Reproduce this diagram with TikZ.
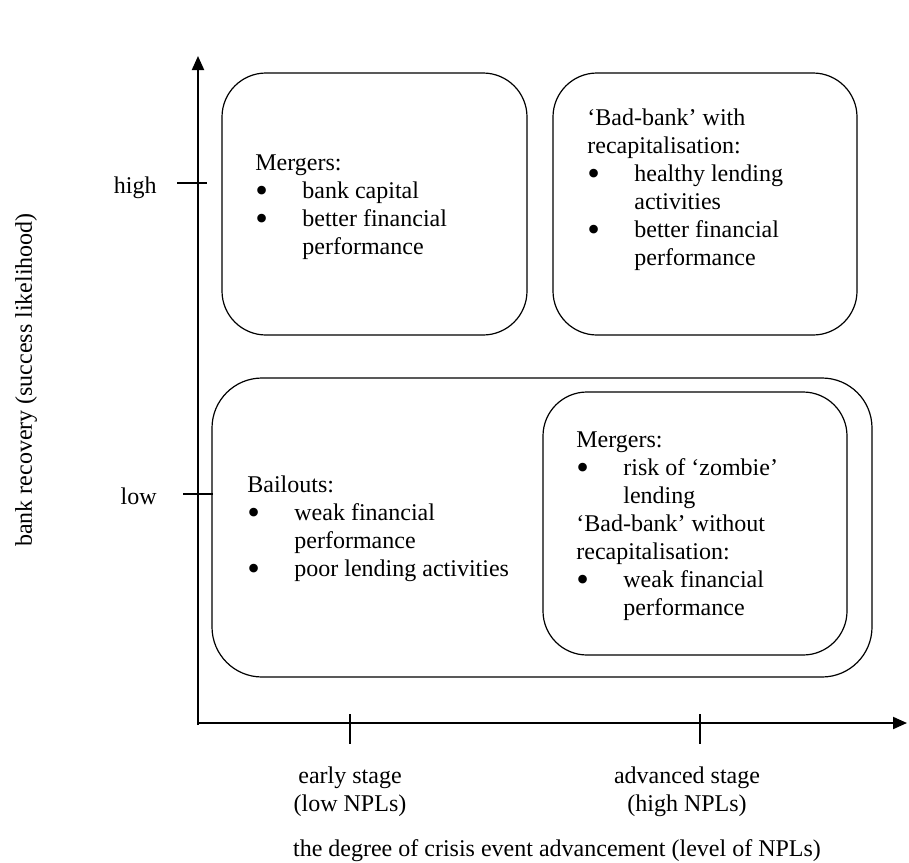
\documentclass[tikz,border=0pt]{standalone}
\usepackage{fontspec}
\setmainfont{Liberation Serif}
\usetikzlibrary{arrows.meta}
\newcommand\mybul{\makebox[23.5pt][l]{\smash{\raisebox{-2.3pt}{\fontsize{18}{14}\selectfont\textbullet}}}}
\newcommand\myind{\hspace*{23.5pt}}
\begin{document}
\begin{tikzpicture}[x=0.5pt,y=-0.5pt,
  box/.style={draw, line width=0.6pt, rounded corners=22pt, inner sep=0pt},
  txt/.style={anchor=base west, inner sep=0pt, align=left, font=\fontsize{12}{14}\selectfont},
  lbl/.style={inner sep=0pt, font=\fontsize{12}{14}\selectfont},
  axisline/.style={line width=1pt, -{Triangle[length=7pt,width=6pt]}},
  tickline/.style={line width=1pt}]
\useasboundingbox (0,0) rectangle (909,862);

% boxes
\node[box, minimum width=152.5pt, minimum height=131pt] (b1) at (374.5,204) {};
\node[box, minimum width=152pt, minimum height=131pt] (b2) at (705,204) {};
\node[box, rounded corners=25pt, minimum width=330pt, minimum height=149.5pt] (b3) at (542,527.5) {};
\node[box, minimum width=152pt, minimum height=131.5pt] (b4) at (695,523.5) {};

% box texts (anchor at the baseline of the last line)
\node[txt] (t1) at (255,254) {Mergers:\\ \mybul bank capital\\ \mybul better financial\\ \myind performance};
\node[txt] (t2) at (587,265) {‘Bad-bank’ with\\ recapitalisation:\\ \mybul healthy lending\\ \myind activities\\ \mybul better financial\\ \myind performance};
\node[txt] (t3) at (247,576) {Bailouts:\\ \mybul weak financial\\ \myind performance\\ \mybul poor lending activities};
\node[txt] (t4) at (576,615) {Mergers:\\ \mybul risk of ‘zombie’\\ \myind lending\\ ‘Bad-bank’ without\\ recapitalisation:\\ \mybul weak financial\\ \myind performance};

% axes
\coordinate (ybot) at (198,725);
\coordinate (ytip) at (198,56);
\coordinate (O) at (198,723);
\coordinate (xtip) at (907,723);
\draw[axisline] (ybot) -- (ytip);
\draw[axisline] (O) -- (xtip);

% ticks
\coordinate (hiA) at (177,183); \coordinate (hiB) at (207,183);
\coordinate (loA) at (183,494); \coordinate (loB) at (213,494);
\coordinate (eA) at (350,714); \coordinate (eB) at (350,744);
\coordinate (aA) at (700,714); \coordinate (aB) at (700,744);
\draw[tickline] (hiA) -- (hiB);
\draw[tickline] (loA) -- (loB);
\draw[tickline] (eA) -- (eB);
\draw[tickline] (aA) -- (aB);

% labels
\node[lbl, anchor=base east] (lhigh) at (157,193) {high};
\node[lbl, anchor=base east] (llow) at (157,504) {low};
\node[lbl, anchor=base, rotate=90] (ylab) at (32,380) {bank recovery (success likelihood)};
\node[lbl, anchor=base] (early1) at (350,783) {early stage};
\node[lbl, anchor=base] (early2) at (350,811) {(low NPLs)};
\node[lbl, anchor=base] (adv1) at (687,783) {advanced stage};
\node[lbl, anchor=base] (adv2) at (687,811) {(high NPLs)};
\node[lbl, anchor=base] (xlab) at (557,856) {the degree of crisis event advancement (level of NPLs)};
\end{tikzpicture}
\end{document}
